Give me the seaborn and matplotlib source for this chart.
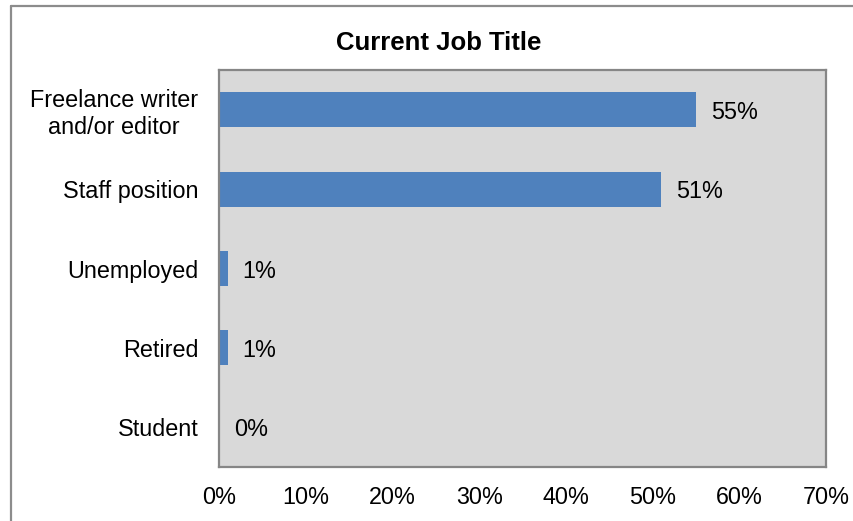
import matplotlib
matplotlib.use("Agg")
import matplotlib.pyplot as plt
from matplotlib.lines import Line2D
import seaborn as sns
import pandas as pd

categories = ["Freelance writer\nand/or editor", "Staff position", "Unemployed", "Retired", "Student"]
values = [55, 51, 1, 1, 0]
value_labels = ["55%", "51%", "1%", "1%", "0%"]
xticks = [0, 10, 20, 30, 40, 50, 60, 70]
xtick_labels = ["0%", "10%", "20%", "30%", "40%", "50%", "60%", "70%"]
title = "Current Job Title"

sns.set_theme(style="white")
plt.rcParams['font.family'] = ['Liberation Sans', 'DejaVu Sans']

df = pd.DataFrame({"cat": categories, "val": values})

fig = plt.figure(figsize=(8.54, 5.21), dpi=100)
ax = fig.add_axes([0.2564, 0.1036, 0.7108, 0.762])
sns.barplot(data=df, x="val", y="cat", orient="h", color="#4F81BD",
            saturation=1, width=0.44, edgecolor="none", linewidth=0, ax=ax)
ax.set_facecolor("#D9D9D9")
ax.set_xlim(0, 70)
ax.set_ylim(4.5, -0.5)
ax.set_xticks(xticks)
ax.set_xticklabels(xtick_labels, fontsize=16.8, color="black")
ax.tick_params(axis="y", labelsize=16.8, labelcolor="black", length=0, pad=15)
ax.tick_params(axis="x", length=0, pad=14)
for lbl in ax.get_yticklabels():
    lbl.set_multialignment("center")
ax.set_xlabel("")
ax.set_ylabel("")
for s in ax.spines.values():
    s.set_visible(True)
    s.set_color("#868686")
    s.set_linewidth(1.6)

for i, (v, t) in enumerate(zip(values, value_labels)):
    ax.annotate(t, xy=(v, i), xytext=(15, 0), textcoords="offset pixels",
                ha="left", va="center_baseline", fontsize=16.8, color="black")

fig.text(439 / 854, 1 - 43 / 521, title, ha="center", va="center",
         fontsize=18.5, fontweight="bold", color="black")

# outer chart border (left and top)
fig.add_artist(Line2D([11 / 854, 11 / 854], [0, 1 - 6 / 521], transform=fig.transFigure,
                      color="#8C8C8C", linewidth=1.6))
fig.add_artist(Line2D([11 / 854, 1], [1 - 6 / 521, 1 - 6 / 521], transform=fig.transFigure,
                      color="#8C8C8C", linewidth=1.6))

fig.savefig("out.png", dpi=100, facecolor="white")
